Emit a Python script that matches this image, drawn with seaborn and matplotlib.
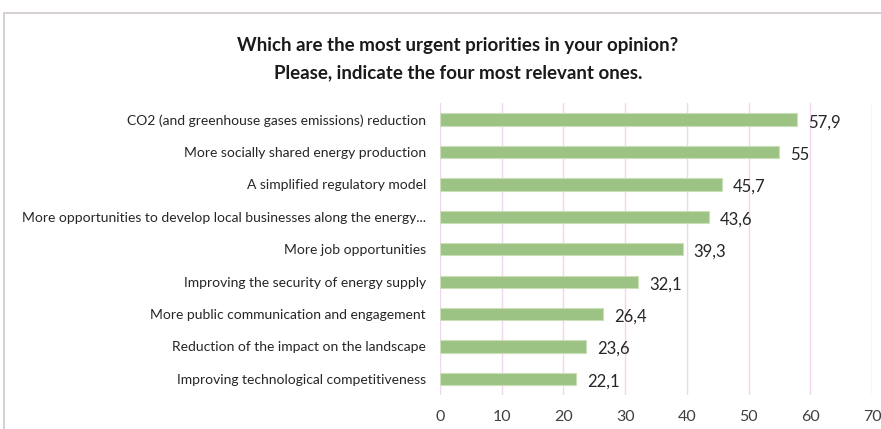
import matplotlib
matplotlib.use("Agg")
import matplotlib.pyplot as plt
from matplotlib.patches import Rectangle
import seaborn as sns
import pandas as pd

categories = [
    "CO2 (and greenhouse gases emissions) reduction",
    "More socially shared energy production",
    "A simplified regulatory model",
    "More opportunities to develop local businesses along the energy...",
    "More job opportunities",
    "Improving the security of energy supply",
    "More public communication and engagement",
    "Reduction of the impact on the landscape",
    "Improving technological competitiveness",
]
values = [57.9, 55, 45.7, 43.6, 39.3, 32.1, 26.4, 23.6, 22.1]
value_labels = ["57,9", "55", "45,7", "43,6", "39,3", "32,1", "26,4", "23,6", "22,1"]
x_ticks = [0, 10, 20, 30, 40, 50, 60, 70]

df = pd.DataFrame({"priority": categories, "share": values})

sns.set_theme(style="white")
plt.rcParams["font.family"] = ["Lato", "DejaVu Sans"]

fig = plt.figure(figsize=(8.81, 4.29), dpi=100)
ax = fig.add_axes([0.4994, 0.079, 0.4904, 0.68])

sns.barplot(data=df, x="share", y="priority", orient="h", color="#9dc384",
            saturation=1, width=0.38, edgecolor="#c9dfba", linewidth=0.8, ax=ax)

ax.set_xlim(0, 70)
ax.set_xticks(x_ticks)
ax.set_xticklabels([str(t) for t in x_ticks], fontsize=11.5, color="#404040")
ax.set_ylim(len(categories) - 0.5, -0.5)
ax.set_xlabel("")
ax.set_ylabel("")
ax.tick_params(axis="y", labelsize=10, colors="#262626", length=0, pad=10)
ax.tick_params(axis="x", length=0, pad=11)
ax.grid(axis="x", color="#f0d6ee", linewidth=1)
ax.set_axisbelow(True)
for s in ax.spines.values():
    s.set_visible(False)

for i, (v, lab) in enumerate(zip(values, value_labels)):
    ax.text(v + 1.8, i + 0.08, lab, va="center", ha="left", fontsize=12, color="#262626")

fig.text(0.52, 0.893, "Which are the most urgent priorities in your opinion?",
         ha="center", va="center", fontsize=13.5, fontweight="bold", color="#1a1a1a")
fig.text(0.52, 0.83, "Please, indicate the four most relevant ones.",
         ha="center", va="center", fontsize=13.5, fontweight="bold", color="#1a1a1a")

# outer chart frame, running off the right and bottom edges
fig.patches.append(Rectangle((4 / 881, -0.1), 1.0, 1.1 - 13 / 429,
                             transform=fig.transFigure, fill=False,
                             edgecolor="#cfc8d0", linewidth=1.2))

fig.savefig("out.png", dpi=100, facecolor="white")
